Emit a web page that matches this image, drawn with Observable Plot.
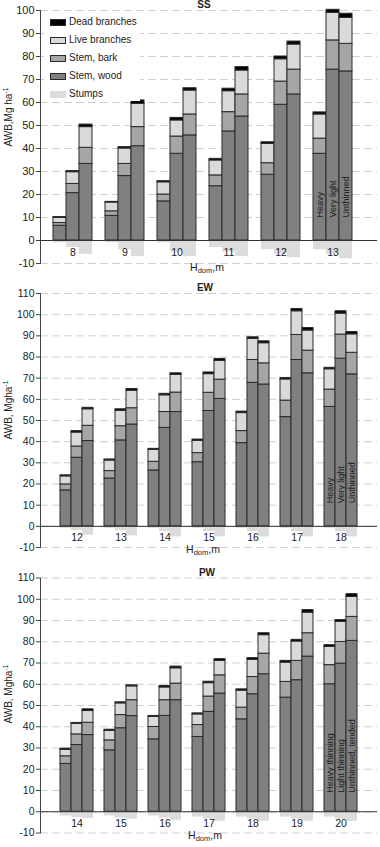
<!DOCTYPE html>
<html><head><meta charset="utf-8">
<script src="https://cdn.jsdelivr.net/npm/d3@7"></script>
<script src="https://cdn.jsdelivr.net/npm/@observablehq/plot@0.6"></script>
<style>
body{margin:0;background:#fff;font-family:"Liberation Sans",Arial,sans-serif;color:#222;}
.panel{position:relative;width:380px;overflow:visible;}
.panel svg{display:block;}
.lab{position:absolute;white-space:nowrap;line-height:1;transform:translate(-50%,-50%);}
.ttl{font-weight:bold;font-size:10px;}
.ytl{font-size:10px;transform:translate(-50%,-50%) rotate(-90deg);}
.ytl sup,.xtl sup{font-size:7px;vertical-align:4px;}
.xtl{font-size:10.5px;}
.xtl sub{font-size:7.5px;vertical-align:-2px;}
.legend{position:absolute;left:44px;top:13px;width:96px;height:88px;background:#fff;font-size:10px;}
.legend .row{position:absolute;left:6px;height:12px;}
.legend .sw{position:absolute;left:0;top:3px;width:14px;height:5px;border:1px solid #2a2a2a;box-sizing:content-box;}
.legend .tx{position:absolute;left:19px;top:0;white-space:nowrap;line-height:11px;}
</style></head><body><div id="root"></div>
<script>
// ---------- data ----------
const comps = ["Stem, wood", "Stem, bark", "Live branches", "Dead branches"];

// SS panel
const ssH = [8, 9, 10, 11, 12, 13];
const ssTreat = ["Heavy", "Very light", "Unthinned"];
const ssWood   = [6.4, 20.6, 33.3, 10.7, 28, 41, 17, 37.7, 45.7, 23.6, 47.4, 53.9, 28.6, 59, 63.5, 37.7, 74.3, 73.5];
const ssBark   = [1.2, 4, 7, 2, 5.3, 8.3, 3, 7.5, 9.1, 4.7, 8.4, 9.6, 5, 10.1, 10.8, 6.6, 12.7, 12];
const ssLive   = [2.2, 5.1, 9, 3.8, 6.7, 10.1, 5.3, 7, 10.4, 6.5, 9.1, 10.4, 8.4, 9.7, 10.9, 10.5, 12, 11.3];
const ssDead   = [0.4, 0.5, 1.1, 0.3, 0.6, 1.5, 0.5, 1.1, 1, 0.7, 1.1, 1.5, 0.7, 1.2, 1.3, 0.9, 1.3, 1.8];
const ssStumps = [-1, -3, -6, -1, -4, -7, -1, -5, -7, -3, -5, -7, -4, -6, -7.5, -4, -6, -8];

// EW panel
const ewH = [12, 13, 14, 15, 16, 17, 18];
const ewTreat = ["Heavy", "Very light", "Unthinned"];
const ewWood   = [17, 32.4, 40.3, 22.6, 40.6, 48.1, 26.4, 46.5, 54, 30.3, 54.5, 60.2, 39.3, 67.8, 67, 51.6, 78.6, 72.3, 56.4, 79.2, 71.8];
const ewBark   = [2.8, 5.3, 7.2, 3.5, 6.7, 7.7, 4.1, 7.5, 9.2, 4.3, 8.6, 9.1, 5.7, 10.8, 10, 7.8, 11.8, 10.7, 8.2, 11.4, 10.2];
const ewLive   = [3.8, 6.6, 7.8, 5, 7.3, 8.3, 5.6, 7.9, 8.4, 5.8, 8.8, 8.9, 8.5, 10, 9.5, 10, 11.2, 9.5, 9.6, 9.9, 8.7];
const ewDead   = [0.5, 0.7, 0.7, 0.5, 0.7, 0.8, 0.5, 0.7, 0.7, 0.6, 0.8, 0.9, 0.7, 0.7, 0.9, 0.7, 1.1, 1.2, 0.7, 1.1, 1.1];
const ewStumps = [-1, -2, -4.2, -1, -2, -4.5, -1, -2.5, -5, -1, -2.5, -5, -1, -2.5, -5, -1, -2.5, -5, -1, -2.5, -5];

// PW panel
const pwH = [14, 15, 16, 17, 18, 19, 20];
const pwTreat = ["Heavy thinning", "Light thinning", "Unthinned, tended"];
const pwWood   = [22.5, 31.4, 36.1, 28.9, 39.3, 45, 34.1, 45.1, 52.5, 35.2, 47, 55.6, 43.5, 55.3, 64.7, 53.7, 61.9, 73, 60, 69.7, 80.4];
const pwBark   = [3.6, 5, 5.8, 4.7, 6.2, 7.5, 5.8, 7.4, 7.8, 5.6, 7.2, 8.6, 5.5, 8.1, 9.7, 7.4, 9.1, 11, 9, 10.2, 11.3];
const pwLive   = [3, 4.9, 5.5, 4.4, 5.5, 6.5, 4.7, 6, 7.2, 5, 6.3, 6.8, 8, 8.1, 8.7, 9.1, 9.1, 9.7, 8.6, 9.5, 9.4];
const pwDead   = [0.6, 0.5, 0.8, 0.6, 0.5, 0.5, 0.5, 0.7, 0.8, 0.5, 0.7, 0.8, 0.6, 0.8, 0.9, 0.8, 0.8, 1.2, 0.8, 0.8, 1.3];
const pwStumps = [-2, -2.7, -3.2, -2, -3, -3.5, -2, -3, -4, -2.5, -3.5, -4.5, -2.5, -3.5, -4.5, -2.5, -3.5, -4.5, -2.5, -3.5, -4.5];

// ---------- styles ----------
const compColors = ["#808080", "#a6a6a6", "#dadada", "#000000"];
const stumpColor = "#dcdcdc";
const FONT = "Liberation Sans, Arial, sans-serif";

function buildPanel(cfg) {
  const {H, treat, wood, bark, live, dead, stumps} = cfg;
  const domain = [];
  H.forEach((g, i) => {
    if (i > 0) domain.push("gap" + i);
    treat.forEach((t, j) => domain.push(g + "|" + j));
  });
  const rows = [], stumpRows = [];
  H.forEach((g, i) => treat.forEach((t, j) => {
    const k = i * 3 + j, key = g + "|" + j;
    [wood, bark, live, dead].forEach((arr, c) => rows.push({key, comp: comps[c], value: arr[k]}));
    stumpRows.push({key, value: stumps[k]});
  }));
  const groupLabels = H.map(g => ({key: g + "|1", label: String(g)}));
  const last = H[H.length - 1];
  const treatLabels = treat.map((t, j) => ({key: last + "|" + j, label: t}));
  const ticks = d3.range(cfg.yDomain[0], cfg.yDomain[1] + 1, 10);

  return Plot.plot({
    width: 380, height: cfg.height,
    marginLeft: 40, marginRight: 3, marginTop: cfg.mt, marginBottom: cfg.mb,
    style: {fontFamily: FONT, fontSize: cfg.tickFont + "px", color: "#222", background: "transparent", overflow: "visible"},
    x: {type: "band", domain, padding: 0, insetLeft: cfg.insetL, insetRight: cfg.insetR, axis: null},
    y: {domain: cfg.yDomain},
    color: {domain: comps, range: compColors},
    marks: [
      Plot.gridY(ticks, {stroke: "#cfcfcf", strokeOpacity: 1, strokeDasharray: "8,4"}),
      Plot.barY(stumpRows, {x: "key", y: "value", fill: stumpColor}),
      Plot.barY(rows, {x: "key", y: "value", fill: "comp", stroke: "#2a2a2a", strokeWidth: 1}),
      Plot.ruleY([0], {stroke: "#333", strokeWidth: 1}),
      Plot.frame({anchor: "left", stroke: "#444"}),
      Plot.axisY({ticks, tickFormat: d => String(d), tickSize: 4, tickPadding: 2, label: null, stroke: "#444"}),
      Plot.text(groupLabels, {x: "key", y: 0, dy: cfg.groupDy, text: "label", fontSize: 10.5, fill: "#222"}),
      Plot.text(treatLabels, {x: "key", y: 0, dy: cfg.treatDy, text: "label", rotate: -90, textAnchor: "start", fontSize: 9, fill: "#222"})
    ]
  });
}

function addLabel(parent, html, cls, x, y) {
  const d = document.createElement("div");
  d.className = "lab " + cls;
  d.innerHTML = html;
  d.style.left = x + "px";
  d.style.top = y + "px";
  parent.appendChild(d);
}

const root = document.getElementById("root");
const panels = [
  {title: "SS", H: ssH, treat: ssTreat, wood: ssWood, bark: ssBark, live: ssLive, dead: ssDead, stumps: ssStumps,
   yDomain: [-10, 100], height: 280, mt: 10, mb: 17, insetL: 13.3, insetR: 24.7, tickFont: 11, treatDy: -23, groupDy: 12,
   titlePos: [204, 5], yTitle: "AWB,Mg ha<sup>-1</sup>", yTitlePos: [8, 117], xTitlePos: [207, 268], legend: true},
  {title: "EW", H: ewH, treat: ewTreat, wood: ewWood, bark: ewBark, live: ewLive, dead: ewDead, stumps: ewStumps,
   yDomain: [-10, 110], height: 280, mt: 13, mb: 13, insetL: 11, insetR: 11.2, tickFont: 10.5, treatDy: -23, groupDy: 11.5,
   titlePos: [205, 8], yTitle: "AWB, Mgha<sup>-1</sup>", yTitlePos: [8, 130], xTitlePos: [203, 270]},
  {title: "PW", H: pwH, treat: pwTreat, wood: pwWood, bark: pwBark, live: pwLive, dead: pwDead, stumps: pwStumps,
   yDomain: [-10, 110], height: 287, mt: 17.5, mb: 14.5, insetL: 11, insetR: 11.2, tickFont: 10.5, treatDy: -19, groupDy: 12,
   titlePos: [207, 13], yTitle: "AWB, Mgha<sup>-1</sup>", yTitlePos: [8, 134], xTitlePos: [205, 276]}
];

const legendItems = [
  {label: "Dead branches", fill: "#000000", stroke: true},
  {label: "Live branches", fill: "#dadada", stroke: true},
  {label: "Stem, bark", fill: "#a6a6a6", stroke: true},
  {label: "Stem, wood", fill: "#808080", stroke: true},
  {label: "Stumps", fill: stumpColor, stroke: false}
];

for (const p of panels) {
  const div = document.createElement("div");
  div.className = "panel";
  div.style.height = p.height + "px";
  div.appendChild(buildPanel(p));
  addLabel(div, p.title, "ttl", p.titlePos[0], p.titlePos[1]);
  addLabel(div, p.yTitle, "ytl", p.yTitlePos[0], p.yTitlePos[1]);
  addLabel(div, "H<sub>dom</sub>,m", "xtl", p.xTitlePos[0], p.xTitlePos[1]);
  if (p.legend) {
    const lg = document.createElement("div");
    lg.className = "legend";
    legendItems.forEach((it, i) => {
      const r = document.createElement("div");
      r.className = "row";
      r.style.top = (3 + i * 18.1) + "px";
      const sw = document.createElement("div");
      sw.className = "sw";
      sw.style.background = it.fill;
      if (!it.stroke) sw.style.borderColor = it.fill;
      const tx = document.createElement("div");
      tx.className = "tx";
      tx.textContent = it.label;
      r.appendChild(sw); r.appendChild(tx);
      lg.appendChild(r);
    });
    div.appendChild(lg);
  }
  root.appendChild(div);
}
</script></body></html>
